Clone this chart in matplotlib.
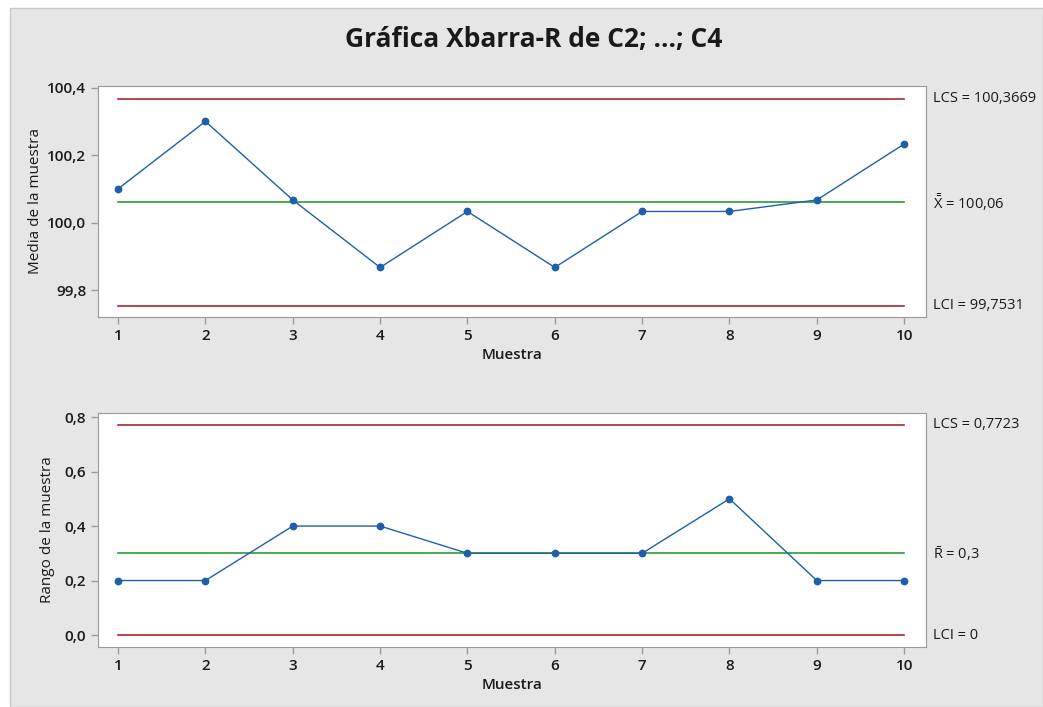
import matplotlib
matplotlib.use("Agg")
import matplotlib.pyplot as plt
from matplotlib.patches import Rectangle
from matplotlib.ticker import FuncFormatter

plt.rcParams['font.family'] = ['Open Sans', 'DejaVu Sans']
plt.rcParams['mathtext.fontset'] = 'custom'
plt.rcParams['mathtext.rm'] = 'Open Sans'

muestras = [1, 2, 3, 4, 5, 6, 7, 8, 9, 10]
medias = [100.1, 100.3, 100.067, 99.867, 100.033, 99.867, 100.033, 100.033, 100.067, 100.233]
rangos = [0.2, 0.2, 0.4, 0.4, 0.3, 0.3, 0.3, 0.5, 0.2, 0.2]
xbar_lcs, xbar_cl, xbar_lci = 100.3669, 100.06, 99.7531
r_lcs, r_cl, r_lci = 0.7723, 0.3, 0.0
xbar_labels = ["LCS = 100,3669", r"$\bar{\bar{\mathrm{X}}}$ = 100,06", "LCI = 99,7531"]
r_labels = ["LCS = 0,7723", r"$\bar{\mathrm{R}}$ = 0,3", "LCI = 0"]
yticks_top = [99.8, 100.0, 100.2, 100.4]
yticks_bot = [0.0, 0.2, 0.4, 0.6, 0.8]

W, H = 1043, 707
fig = plt.figure(figsize=(W / 100, H / 100), dpi=100, facecolor='white')
fig.patches.append(Rectangle((10 / W, 0), 1 - 10 / W, 1 - 8 / H, transform=fig.transFigure,
                             facecolor='#E6E6E6', edgecolor='#C8C8C8', lw=1, zorder=-10))

RED = '#A8272B'
GREEN = '#2E9A35'
BLUE = '#1F5FAA'
GRAY = '#9A9A9A'

fmt = FuncFormatter(lambda v, p: f"{v:.1f}".replace('.', ','))


def make_axes(rect, values, lcs, cl, lci, labels, yticks, ylim, ylabel, ylab_x):
    ax = fig.add_axes(rect)
    ax.set_facecolor('white')
    ax.plot([muestras[0], muestras[-1]], [lcs, lcs], color=RED, lw=1.2)
    ax.plot([muestras[0], muestras[-1]], [lci, lci], color=RED, lw=1.2)
    ax.plot([muestras[0], muestras[-1]], [cl, cl], color=GREEN, lw=1.2)
    ax.plot(muestras, values, color=BLUE, lw=1.0, marker='o', ms=4.6)
    ax.set_xlim(0.77, 10.25)
    ax.set_ylim(*ylim)
    ax.set_xticks(muestras)
    ax.set_yticks(yticks)
    ax.yaxis.set_major_formatter(fmt)
    for s in ax.spines.values():
        s.set_color(GRAY)
    ax.tick_params(colors=GRAY, length=5, width=1, labelcolor='#1A1A1A', labelsize=11)
    for t in ax.get_xticklabels() + ax.get_yticklabels():
        t.set_fontweight('semibold')
    ax.set_xlabel('Muestra', fontsize=11, fontweight='semibold', color='#1A1A1A', labelpad=4)
    ax.set_ylabel(ylabel, fontsize=11, color='#1A1A1A')
    ax.yaxis.set_label_coords(ylab_x, 0.5)
    for val, lab in zip([lcs, cl, lci], labels):
        ax.annotate(lab, xy=(1.0, val), xycoords=('axes fraction', 'data'), xytext=(5, 0),
                    textcoords='offset points', va='center', ha='left', fontsize=10.5,
                    color='#1A1A1A', annotation_clip=False)
    return ax


make_axes([98 / W, 1 - 317 / H, (926 - 98) / W, (317 - 86) / H], medias, xbar_lcs, xbar_cl, xbar_lci,
          xbar_labels, yticks_top, (99.72, 100.405), 'Media de la muestra', (43 - 98) / 828)
make_axes([98 / W, 1 - 647 / H, (926 - 98) / W, (647 - 413) / H], rangos, r_lcs, r_cl, r_lci,
          r_labels, yticks_bot, (-0.044, 0.815), 'Rango de la muestra', (55 - 98) / 828)

fig.text(534 / W, 1 - 40 / H, 'Gráfica Xbarra-R de C2; ...; C4', ha='center', va='center',
         fontsize=19, fontweight='bold', color='#1A1A1A')

fig.savefig('out.png', dpi=100, facecolor='white')
